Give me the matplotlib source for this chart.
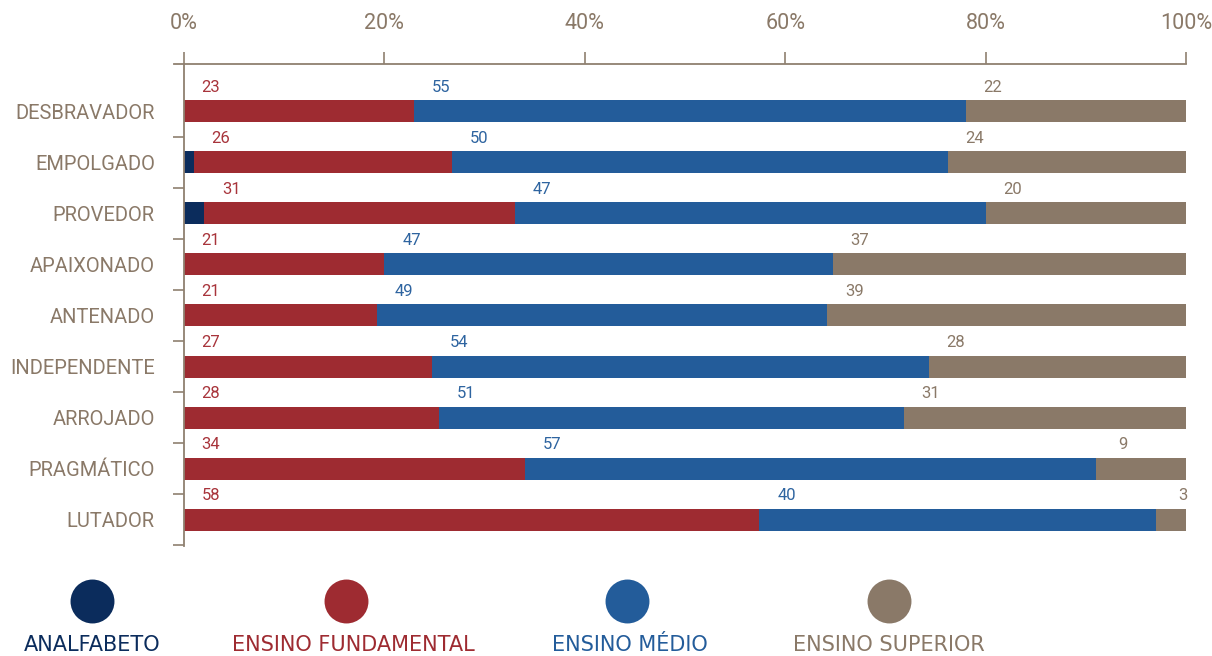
import numpy as np
import matplotlib
matplotlib.use("Agg")
import matplotlib.pyplot as plt

# data (percent labels as shown, bars normalised per row)
categories = ["DESBRAVADOR", "EMPOLGADO", "PROVEDOR", "APAIXONADO", "ANTENADO",
              "INDEPENDENTE", "ARROJADO", "PRAGMÁTICO", "LUTADOR"]
analfabeto = [0, 1, 2, 0, 0, 0, 0, 0, 0]
fundamental = [23, 26, 31, 21, 21, 27, 28, 34, 58]
medio = [55, 50, 47, 47, 49, 54, 51, 57, 40]
superior = [22, 24, 20, 37, 39, 28, 31, 9, 3]
series_names = ["ANALFABETO", "ENSINO FUNDAMENTAL", "ENSINO MÉDIO", "ENSINO SUPERIOR"]
xticks = [0, 20, 40, 60, 80, 100]

colors = ["#0b2c5c", "#9e2b31", "#235c9a", "#8a7968"]
label_colors = [None, "#a8343b", "#2e64a0", "#8a7968"]
txt = "#8a7968"
axis_col = "#8f8070"

plt.rcParams['font.family'] = ['Roboto', 'DejaVu Sans']

fig = plt.figure(figsize=(12.12, 6.56), dpi=100)
ax = fig.add_axes([184/1212, (656-546)/656, (1186-184)/1212, (546-64)/656])

data = np.array([analfabeto, fundamental, medio, superior], dtype=float)
shares = data / data.sum(axis=0) * 100
y = np.arange(len(categories))
left = np.zeros(len(categories))
for k in range(4):
    ax.barh(y, shares[k], left=left, height=0.43, color=colors[k], linewidth=0)
    if k > 0:
        for i in range(len(categories)):
            ax.text(left[i] + 2.7, y[i] - 0.47, str(int(data[k][i])), ha="center", va="center",
                    fontsize=12, color=label_colors[k])
    left = left + shares[k]

ax.set_xlim(0, 100)
ax.set_ylim(8.51, -0.92)

for s in ["right", "bottom"]:
    ax.spines[s].set_visible(False)
for s in ["top", "left"]:
    ax.spines[s].set_color(axis_col)
    ax.spines[s].set_linewidth(1.3)
ax.spines["top"].set_bounds(-1, 100)

ax.xaxis.tick_top()
ax.set_xticks(xticks)
ax.set_xticklabels([f"{v}%" for v in xticks])
ax.tick_params(axis="x", direction="out", length=8.5, width=1.2, color=axis_col,
               pad=13, labelsize=15.5, labelcolor=txt)

ax.set_yticks(np.arange(len(categories)) + 0.5)
ax.set_yticklabels([])
ax.tick_params(axis="y", which="major", direction="out", length=8, width=1.2, color=axis_col)
ax.set_yticks(y, minor=True)
ax.set_yticklabels(categories, minor=True)
ax.tick_params(axis="y", which="minor", length=0, pad=21, labelsize=14.5, labelcolor=txt)

# legend drawn in pixel space below the chart
lg = fig.add_axes([0, 0, 1, 1])
lg.set_xlim(0, 1212)
lg.set_ylim(656, 0)
lg.axis("off")
circle_x = [92, 346, 627, 889]
text_x = [92, 353, 630, 889]
for k in range(4):
    lg.scatter(circle_x[k], 601, s=1000, color=colors[k], linewidths=0)
    lg.text(text_x[k], 645, series_names[k], ha="center", va="center", fontsize=15,
            color=colors[k], family=['DejaVu Sans'])

fig.savefig("out.png", dpi=100)
